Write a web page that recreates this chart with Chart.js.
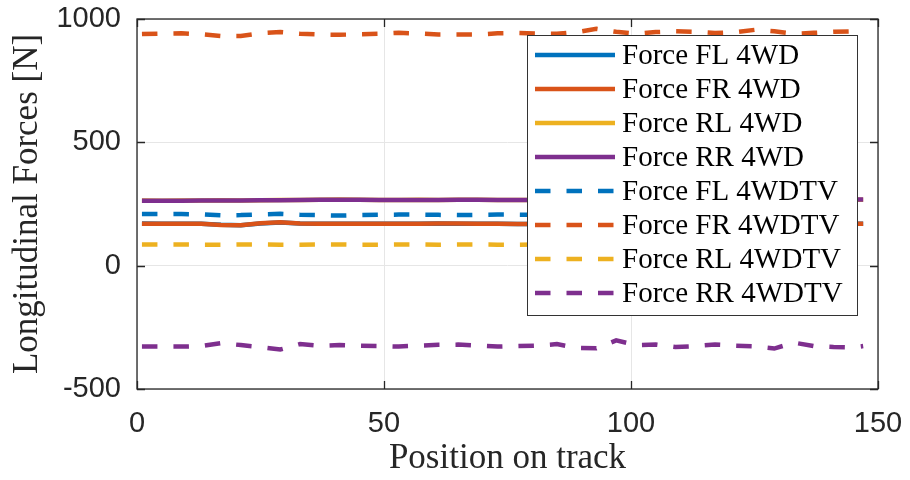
<!DOCTYPE html>
<html>
<head>
<meta charset="utf-8">
<script src="https://cdn.jsdelivr.net/npm/chart.js@4.4.0/dist/chart.umd.min.js"></script>
<style>
  html, body { margin: 0; padding: 0; background: #fff; }
</style>
</head>
<body>
<canvas id="myChart" width="910" height="480"></canvas>
<script>
// position on track (x) and the forces
var position = [1,5,9,13,17,21,25,29,33,37,41,45,49,53,57,61,65,69,73,77,81,85,89,93,97,101,105,109,113,117,121,125,129,133,137,141,145,147];

var forceFL4wd = [171,170,170,170,166,164,171,175,171,170,170,170,170,170,170,171,170,170,170,169,169,170,170,171,170,170,170,170,170,170,171,170,170,170,170,171,170,170];
var forceFR4wd = [170,170,170,170,165,164,172,176,171,170,170,170,170,170,170,171,171,170,170,169,169,170,170,171,170,170,170,169,170,170,171,170,170,170,170,171,170,170];
var forceRL4wd = [264,263,264,264,265,264,265,266,266,267,268,267,266,266,267,266,267,267,266,266,266,266,267,266,266,266,267,266,266,266,266,267,266,266,266,267,267,267];
var forceRR4wd = [263,263,263,264,264,264,265,265,266,267,267,267,266,266,266,266,267,267,266,266,266,266,266,266,266,266,266,266,266,266,266,266,266,267,267,268,268,268];

var forceFL4wdtv = [209,209,209,208,204,205,208,210,206,205,203,205,206,207,207,206,205,206,207,207,206,206,207,206,206,207,206,206,207,206,206,207,206,206,207,207,207,207];
var forceFR4wdtv = [939,941,942,938,931,931,942,947,940,937,936,938,940,944,941,937,937,937,942,943,941,940,947,960,948,940,947,950,948,943,946,956,950,940,944,948,950,948];
var forceRL4wdtv = [86,86,86,85,85,86,86,85,85,86,86,85,85,86,86,85,86,86,85,85,86,86,86,85,86,86,86,87,86,86,87,87,87,88,88,88,89,89];
var forceRR4wdtv = [-328,-328,-328,-326,-314,-322,-330,-340,-318,-325,-322,-325,-326,-328,-324,-321,-320,-324,-328,-326,-324,-318,-333,-335,-303,-322,-320,-330,-326,-320,-324,-327,-336,-312,-326,-330,-332,-326];

var seriesNames = ['Force FL 4WD', 'Force FR 4WD', 'Force RL 4WD', 'Force RR 4WD',
                   'Force FL 4WDTV', 'Force FR 4WDTV', 'Force RL 4WDTV', 'Force RR 4WDTV'];
var seriesValues = [forceFL4wd, forceFR4wd, forceRL4wd, forceRR4wd,
                    forceFL4wdtv, forceFR4wdtv, forceRL4wdtv, forceRR4wdtv];
var xTicks = [0, 50, 100, 150];
var yTicks = [-500, 0, 500, 1000];

var colors = ['#0072BD', '#D95319', '#EDB120', '#7E2F8E'];
var dash = [15.5, 16];
var axisColor = '#262626';

var datasets = seriesValues.map(function (vals, i) {
  return {
    label: seriesNames[i],
    data: vals.map(function (v, j) { return { x: position[j], y: v }; }),
    borderColor: colors[i % 4],
    borderWidth: 4.5,
    borderDash: i < 4 ? [] : dash,
    pointRadius: 0,
    fill: false,
    order: 8 - i // later series on top, like matlab
  };
});

// box, inward ticks and the legend inside the axes
var matlabAxes = {
  id: 'matlabAxes',
  afterDraw: function (chart) {
    var c = chart.ctx;
    var a = chart.chartArea;
    var xs = chart.scales.x, ys = chart.scales.y;
    c.save();
    c.strokeStyle = axisColor;
    c.lineWidth = 1.3;
    c.strokeRect(a.left, a.top, a.right - a.left, a.bottom - a.top);
    c.beginPath();
    xTicks.forEach(function (t) {
      var px = Math.round(xs.getPixelForValue(t)) + 0.5;
      c.moveTo(px, a.bottom); c.lineTo(px, a.bottom - 8);
      c.moveTo(px, a.top); c.lineTo(px, a.top + 8);
    });
    yTicks.forEach(function (t) {
      var py = Math.round(ys.getPixelForValue(t)) + 0.5;
      c.moveTo(a.left, py); c.lineTo(a.left + 8, py);
      c.moveTo(a.right, py); c.lineTo(a.right - 8, py);
    });
    c.stroke();

    // legend
    var lx = 527, ly = 35, lw = 330, lh = 280;
    c.fillStyle = '#fff';
    c.fillRect(lx, ly, lw, lh);
    c.strokeStyle = '#333';
    c.lineWidth = 1;
    c.strokeRect(lx + 0.5, ly + 0.5, lw, lh);
    c.font = '29px "Liberation Serif"';
    c.textBaseline = 'middle';
    c.textAlign = 'left';
    chart.data.datasets.forEach(function (ds, i) {
      var y = 55 + i * 34;
      c.beginPath();
      c.setLineDash(ds.borderDash);
      c.lineDashOffset = 0;
      c.strokeStyle = ds.borderColor;
      c.lineWidth = 4.5;
      c.moveTo(535, y);
      c.lineTo(615, y);
      c.stroke();
      c.setLineDash([]);
      c.fillStyle = '#000';
      c.fillText(ds.label, 622, y + 1);
    });
    c.restore();
  }
};

var ctx = document.getElementById('myChart').getContext('2d');
var myChart = new Chart(ctx, {
  type: 'line',
  data: { datasets: datasets },
  options: {
    responsive: false,
    animation: false,
    devicePixelRatio: 1,
    layout: { padding: { top: 19, right: 32, left: 0, bottom: 0 } },
    plugins: { legend: { display: false }, tooltip: { enabled: false } },
    elements: { line: { tension: 0, borderCapStyle: 'butt' } },
    scales: {
      x: {
        type: 'linear', min: 0, max: 150,
        afterBuildTicks: function (s) { s.ticks = xTicks.map(function (v) { return { value: v }; }); },
        afterFit: function (s) { s.height = 91; s.paddingLeft = 0; s.paddingRight = 0; },
        ticks: { font: { family: 'Liberation Sans', size: 29 }, color: axisColor, padding: 18, maxRotation: 0,
                 callback: function (v) { return String(v); } },
        grid: { color: '#e6e6e6', drawTicks: false },
        border: { display: false },
        title: { display: true, text: 'Position on track', color: axisColor,
                 font: { family: 'Liberation Serif', size: 35 }, padding: { top: 0, bottom: 0 } }
      },
      y: {
        min: -500, max: 1000,
        afterBuildTicks: function (s) { s.ticks = yTicks.map(function (v) { return { value: v }; }); },
        afterFit: function (s) { s.width = 137; s.paddingTop = 0; s.paddingBottom = 0; },
        ticks: { font: { family: 'Liberation Sans', size: 29 }, color: axisColor, padding: 16,
                 callback: function (v) { return String(v); } },
        grid: { color: '#e6e6e6', drawTicks: false },
        border: { display: false },
        title: { display: true, text: 'Longitudinal Forces [N]', color: axisColor,
                 font: { family: 'Liberation Serif', size: 35 }, padding: { top: 7, bottom: 0 } }
      }
    }
  },
  plugins: [matlabAxes]
});
</script>
</body>
</html>
